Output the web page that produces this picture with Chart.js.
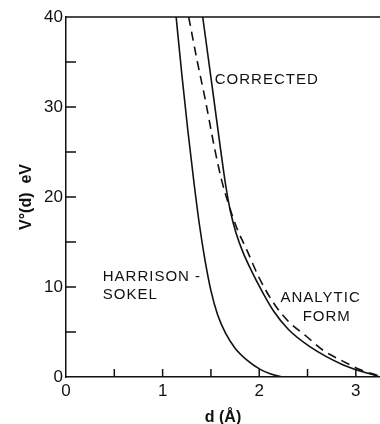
<!DOCTYPE html>
<html lang="en">
<head>
    <meta charset="UTF-8">
    <title>V°(d)</title>
    <style>
        html, body { margin: 0; padding: 0; background: #fff; }
        #wrap { width: 380px; height: 424px; position: relative; }
    </style>
</head>
<body>
    <div id="wrap"><canvas id="chart"></canvas></div>

    <script src="https://cdn.jsdelivr.net/npm/chart.js"></script>
    <script>
        // values (d in Å, V in eV)
        const hsD = [1.14, 1.20, 1.26, 1.32, 1.38, 1.44, 1.50, 1.57, 1.65, 1.75, 1.87, 2.01, 2.12, 2.22, 2.27];
        const hsV = [40, 33.5, 27.5, 22.0, 17.0, 12.9, 9.6, 6.9, 4.9, 3.2, 1.9, 0.85, 0.33, 0.06, 0];

        const corrD = [1.415, 1.53, 1.60, 1.65, 1.70, 1.76, 1.83, 1.92, 2.02, 2.15, 2.30, 2.52, 2.87, 3.25];
        const corrV = [40, 30.9, 25.3, 21.5, 18.5, 16.0, 13.9, 11.8, 9.7, 7.3, 5.3, 3.4, 1.34, 0];

        const anD = [1.27, 1.36, 1.44, 1.54, 1.61, 1.68, 1.77, 1.87, 2.00, 2.15, 2.30, 2.49, 2.67, 2.84, 3.05, 3.25];
        const anV = [40, 35, 30.9, 25.3, 21.9, 19.3, 16.5, 14.15, 11.0, 8.2, 6.2, 4.5, 2.9, 1.9, 0.8, 0.1];

        const xTicks = [0, 1, 2, 3];
        const yTicks = [0, 10, 20, 30, 40];

        const pts = (xs, ys) => xs.map((x, i) => ({ x: x, y: ys[i] }));

        // in-plot tick marks, top frame line and curve labels
        const frame = {
            id: 'frame',
            afterDraw(chart) {
                const { ctx, chartArea: a, scales: { x, y } } = chart;
                ctx.save();
                ctx.strokeStyle = '#111';
                ctx.lineWidth = 1.5;
                ctx.beginPath();
                ctx.moveTo(a.left, a.top);
                ctx.lineTo(a.right, a.top);
                for (let v = 0.5; v <= 3; v += 0.5) {
                    const px = x.getPixelForValue(v);
                    ctx.moveTo(px, a.bottom);
                    ctx.lineTo(px, a.bottom - 8);
                }
                for (let v = 5; v < 40; v += 5) {
                    const py = y.getPixelForValue(v);
                    ctx.moveTo(a.left, py);
                    ctx.lineTo(a.left + 10, py);
                }
                ctx.stroke();

                ctx.fillStyle = '#111';
                ctx.font = '15px "Liberation Sans", Arial, sans-serif';
                ctx.letterSpacing = '1px';
                ctx.textBaseline = 'middle';
                ctx.textAlign = 'left';
                const put = (t, dx, dy) => ctx.fillText(t, x.getPixelForValue(dx), y.getPixelForValue(dy));
                put('CORRECTED', 1.54, 33.0);
                put('HARRISON -', 0.38, 11.1);
                put('SOKEL', 0.38, 9.1);
                put('ANALYTIC', 2.22, 8.8);
                put('FORM', 2.45, 6.7);
                ctx.restore();
            }
        };

        const line = (label, data, dash) => ({
            label: label,
            data: data,
            borderColor: '#111',
            borderWidth: 1.6,
            borderDash: dash,
            pointRadius: 0,
            cubicInterpolationMode: 'monotone'
        });

        const ctx = document.getElementById('chart').getContext('2d');
        new Chart(ctx, {
            type: 'line',
            data: {
                datasets: [
                    line('Harrison-Sokel', pts(hsD, hsV), []),
                    line('Corrected', pts(corrD, corrV), []),
                    line('Analytic form', pts(anD, anV), [9, 6])
                ]
            },
            options: {
                responsive: true,
                maintainAspectRatio: false,
                animation: false,
                layout: { padding: { top: 17, right: 0, left: 0, bottom: 0 } },
                plugins: {
                    legend: { display: false },
                    tooltip: { enabled: false }
                },
                scales: {
                    x: {
                        type: 'linear',
                        min: 0,
                        max: 3.25,
                        afterBuildTicks: s => { s.ticks = xTicks.map(v => ({ value: v })); },
                        afterFit: s => { s.height = 47; },
                        grid: { display: false, drawTicks: false },
                        border: { display: true, color: '#111', width: 1.5 },
                        ticks: {
                            color: '#111',
                            font: { family: '"Liberation Sans", Arial, sans-serif', size: 17 },
                            padding: 4,
                            autoSkip: false,
                            maxRotation: 0
                        },
                        title: {
                            display: true,
                            text: 'd (Å)',
                            color: '#111',
                            font: { family: '"Liberation Sans", Arial, sans-serif', size: 16, weight: 'bold' },
                            padding: { top: 0, bottom: -3 }
                        }
                    },
                    y: {
                        type: 'linear',
                        min: 0,
                        max: 40,
                        afterBuildTicks: s => { s.ticks = yTicks.map(v => ({ value: v })); },
                        afterFit: s => { s.width = 66; },
                        grid: { display: false, drawTicks: false },
                        border: { display: true, color: '#111', width: 1.5 },
                        ticks: {
                            color: '#111',
                            font: { family: '"Liberation Sans", Arial, sans-serif', size: 17 },
                            padding: 3
                        },
                        title: {
                            display: true,
                            text: 'V°(d)  eV',
                            color: '#111',
                            font: { family: '"Liberation Sans", Arial, sans-serif', size: 16, weight: 'bold' },
                            padding: { top: 17, bottom: 0 }
                        }
                    }
                }
            },
            plugins: [frame]
        });
    </script>
</body>
</html>
